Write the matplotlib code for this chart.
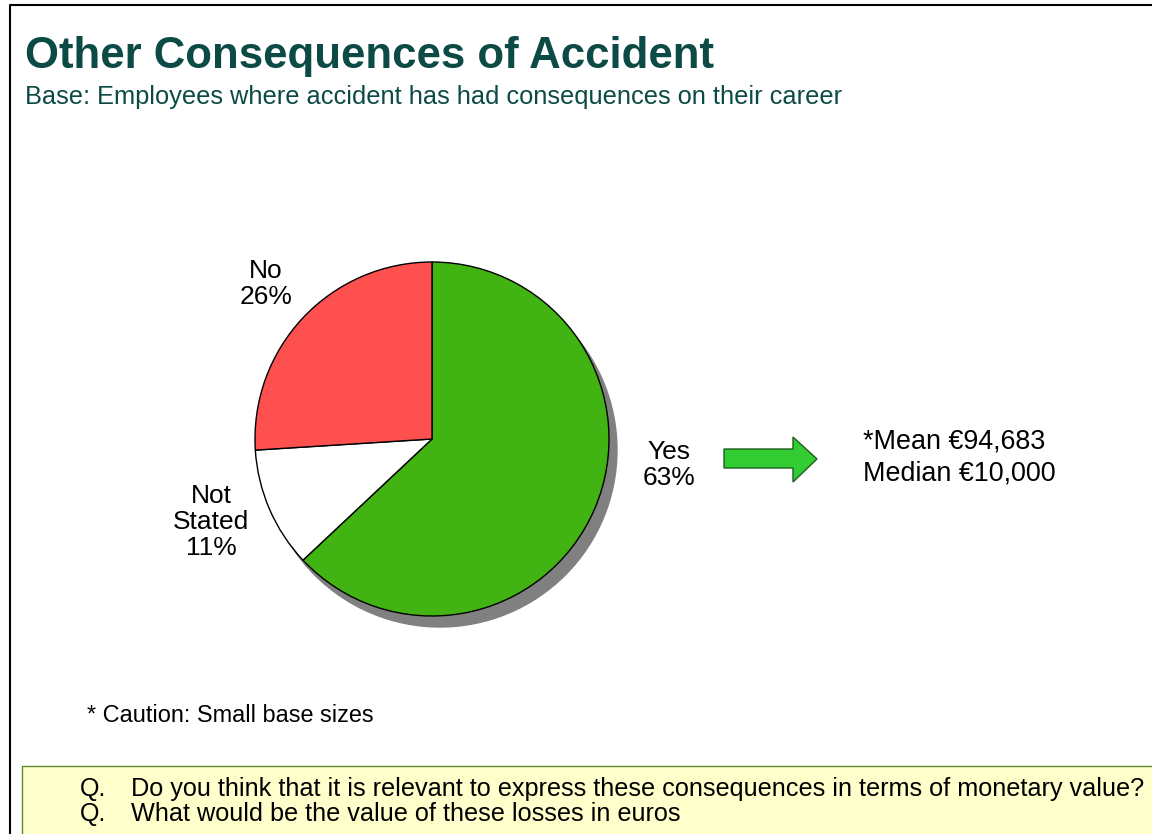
import matplotlib.pyplot as plt
from matplotlib.patches import Circle, Rectangle, Polygon

# dados
labels = ["Yes", "Not\nStated", "No"]
valores = [63, 11, 26]
cores = ["#41B312", "#FFFFFF", "#FF5050"]
media_txt = "*Mean \u20ac94,683"
mediana_txt = "Median \u20ac10,000"

W, H = 1152, 834
fig = plt.figure(figsize=(W / 100, H / 100), dpi=100)
ax = fig.add_axes([0, 0, 1, 1])
ax.set_xlim(0, W)
ax.set_ylim(0, H)
ax.set_aspect("equal")
ax.axis("off")

def y(p):
    return H - p

plt.rcParams["font.family"] = ["Liberation Sans", "DejaVu Sans"]

# moldura
ax.plot([10, 10, W + 5], [-5, y(5), y(5)], color="black", lw=1.5)

# titulo
verde_escuro = "#0B4A45"
ax.text(25, y(56), "Other Consequences of Accident", fontsize=31.5, fontweight="bold",
        color=verde_escuro, va="center", ha="left")
ax.text(25, y(97), "Base: Employees where accident has had consequences on their career",
        fontsize=18.3, color=verde_escuro, va="center", ha="left")

# pizza
cx, cy, r = 432, y(439), 177
ax.add_patch(Circle((cx + 8, cy - 11), r, color="#808080", zorder=1))
wedges, _ = ax.pie(valores, colors=cores, startangle=90, counterclock=False,
                   center=(cx, cy), radius=r, frame=True,
                   wedgeprops=dict(edgecolor="black", linewidth=1.0))
for w in wedges:
    w.set_zorder(2)
ax.set_xlim(0, W)
ax.set_ylim(0, H)
ax.axis("off")

pos_rotulos = [(669, 465), (211, 522), (266, 284)]
for lab, v, (px, py) in zip(labels, valores, pos_rotulos):
    ax.text(px, y(py), f"{lab}\n{v}%", fontsize=19, ha="center", va="center",
            linespacing=1.08)

# seta
seta = [(724, 449), (793, 449), (793, 437), (817, 459), (793, 482), (793, 468), (724, 468)]
ax.add_patch(Polygon([(a, y(b)) for a, b in seta], closed=True, facecolor="#33CC33",
                     edgecolor="#1E5E1E", lw=1.0))

ax.text(863, y(441), media_txt, fontsize=19.4, ha="left", va="center")
ax.text(863, y(473), mediana_txt, fontsize=19.4, ha="left", va="center")

ax.text(87, y(716), "* Caution: Small base sizes", fontsize=16.9, ha="left", va="center")

# caixa de perguntas
ax.add_patch(Rectangle((22, y(840)), W, 840 - 766, facecolor="#FFFFCC",
                       edgecolor="#5E8C2E", lw=1.0))
perguntas = ["Do you think that it is relevant to express these consequences in terms of monetary value?",
             "What would be the value of these losses in euros"]
for i, q in enumerate(perguntas):
    yy = y(789 + 25 * i)
    ax.text(80, yy, "Q.", fontsize=18, ha="left", va="center")
    ax.text(131, yy, q, fontsize=18.2, ha="left", va="center")

fig.savefig("out.png", dpi=100)
